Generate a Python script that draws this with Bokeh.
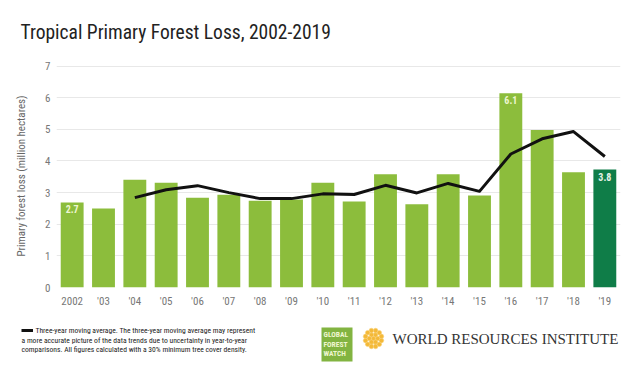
import numpy as np
from bokeh.plotting import figure
from bokeh.layouts import column
from bokeh.models import ColumnDataSource, FactorRange, Range1d, FixedTicker
from bokeh.core.properties import value
from bokeh.embed import file_html
from bokeh.resources import INLINE

# ---------------- data ----------------
years = ["2002", "'03", "'04", "'05", "'06", "'07", "'08", "'09", "'10",
         "'11", "'12", "'13", "'14", "'15", "'16", "'17", "'18", "'19"]
loss = [2.69, 2.50, 3.41, 3.31, 2.84, 2.93, 2.74, 2.78, 3.31,
        2.72, 3.58, 2.63, 3.58, 2.91, 6.14, 4.98, 3.64, 3.73]
ma_years = ["'04", "'05", "'06", "'07", "'08", "'09", "'10", "'11",
            "'12", "'13", "'14", "'15", "'16", "'17", "'18", "'19"]
ma_vals = [2.84, 3.09, 3.22, 3.00, 2.81, 2.81, 2.96, 2.94,
           3.23, 2.99, 3.29, 3.04, 4.22, 4.70, 4.93, 4.14]
label_years = ["2002", "'16", "'19"]
label_texts = ["2.7", "6.1", "3.8"]
y_ticks = [0, 1, 2, 3, 4, 5, 6, 7]

TITLE = "Tropical Primary Forest Loss, 2002-2019"
YLABEL = "Primary forest loss (million hectares)"
NOTE = ["Three-year moving average. The three-year moving average may represent",
        "a more accurate picture of the data trends due to uncertainty in year-to-year",
        "comparisons. All figures calculated with a 30% minimum tree cover density."]

# ---------------- styles ----------------
NARROW = "Liberation Sans Narrow, Roboto Condensed, Roboto"
LIGHT = "#8cbd3c"
DARK = "#0f7d48"
W = 628
BL, BR = 56, 8


def blank(h):
    # data units == screen pixels (x from page left, y from panel bottom)
    f = figure(width=W, height=h, x_range=Range1d(0, W), y_range=Range1d(0, h),
               x_axis_type=None, y_axis_type=None, output_backend="svg",
               toolbar_location=None, min_border_left=0, min_border_right=0,
               min_border_top=0, min_border_bottom=0, frame_align=False)
    f.outline_line_color = None
    f.grid.visible = False
    return f


# ---------------- header ----------------
hdr = blank(56)
hdr.text(x=[20], y=[24.5], text=[TITLE], text_font=value(NARROW),
         text_font_size="19.5px", text_color="#222222", text_baseline="alphabetic",
         text_align="left")

# ---------------- main chart ----------------
p = figure(x_range=FactorRange(factors=years), y_range=Range1d(0, 7.05),
           width=W, height=254, output_backend="svg", toolbar_location=None,
           min_border_left=BL, min_border_right=BR, min_border_top=8,
           min_border_bottom=23, frame_align=False)
p.outline_line_color = None
p.xgrid.grid_line_color = None
p.ygrid.grid_line_color = "#e8e8e8"
p.ygrid.grid_line_width = 1
p.yaxis.ticker = FixedTicker(ticks=y_ticks)
for ax in (p.xaxis[0], p.yaxis[0]):
    ax.axis_line_color = None
    ax.major_tick_line_color = None
    ax.minor_tick_line_color = None
    ax.major_tick_out = 0
    ax.major_label_text_font = NARROW
    ax.major_label_text_font_size = "11px"
    ax.major_label_text_color = "#777777"
p.yaxis.major_label_standoff = 6
p.xaxis.major_label_standoff = 7
p.yaxis.axis_label = YLABEL
p.yaxis.axis_label_text_font = NARROW
p.yaxis.axis_label_text_font_style = "normal"
p.yaxis.axis_label_text_font_size = "11px"
p.yaxis.axis_label_text_color = "#666666"
p.yaxis.axis_label_standoff = 14

colors = [LIGHT] * (len(years) - 1) + [DARK]
src = ColumnDataSource(dict(year=years, loss=loss, color=colors))
p.vbar(x="year", top="loss", width=0.73, fill_color="color", line_color=None,
       source=src)
p.line(x=ma_years, y=ma_vals, line_color="#111111", line_width=3,
       line_join="round")

lab_y = [loss[years.index(y)] for y in label_years]
lab_c = ["#eef6d2", "#eef6d2", "#e6f2e6"]
p.text(x=label_years, y=lab_y, text=label_texts, text_align="center",
       text_baseline="top", y_offset=3, text_font=value(NARROW),
       text_font_size="10px", text_font_style="bold", text_color=lab_c)

# ---------------- footer ----------------
ftr = blank(57)
ftr.line(x=[21, 32.5], y=[37, 37], line_color="#111111", line_width=3)
ftr.text(x=[35, 21, 21], y=[37, 27, 18], text=NOTE, text_font=value(NARROW),
         text_font_size="7.6px", text_color="#222222", text_baseline="middle",
         text_align="left")
# GFW logo
ftr.rect(x=[336.5], y=[23], width=31, height=34, fill_color="#82b441",
         line_color=None)
ftr.text(x=[323, 323, 323], y=[33, 23.5, 14], text=["GLOBAL", "FOREST", "WATCH"],
         text_font=value(NARROW), text_font_size="7.5px", text_font_style="bold",
         text_color="#eef6d0", text_baseline="middle", text_align="left")
# WRI sun icon
cx, cy = 373, 29
pts_x, pts_y = [cx], [cy]
for r, n, off in ((4.2, 6, 0.0), (8.2, 12, np.pi / 12)):
    a = np.arange(n) * 2 * np.pi / n + off
    pts_x += list(cx + r * np.cos(a))
    pts_y += list(cy + r * np.sin(a))
ftr.scatter(x=pts_x, y=pts_y, size=4.6, marker="circle", fill_color="#f4b938",
            line_color="#f8d27a", line_width=0.6)
ftr.text(x=[392], y=[29], text=["WORLD RESOURCES INSTITUTE"],
         text_font=value("Liberation Serif"), text_font_size="15px",
         text_color="#333333", text_baseline="middle", text_align="left")

layout = column(hdr, p, ftr, spacing=0)
open("out.html", "w").write(file_html(layout, INLINE))
